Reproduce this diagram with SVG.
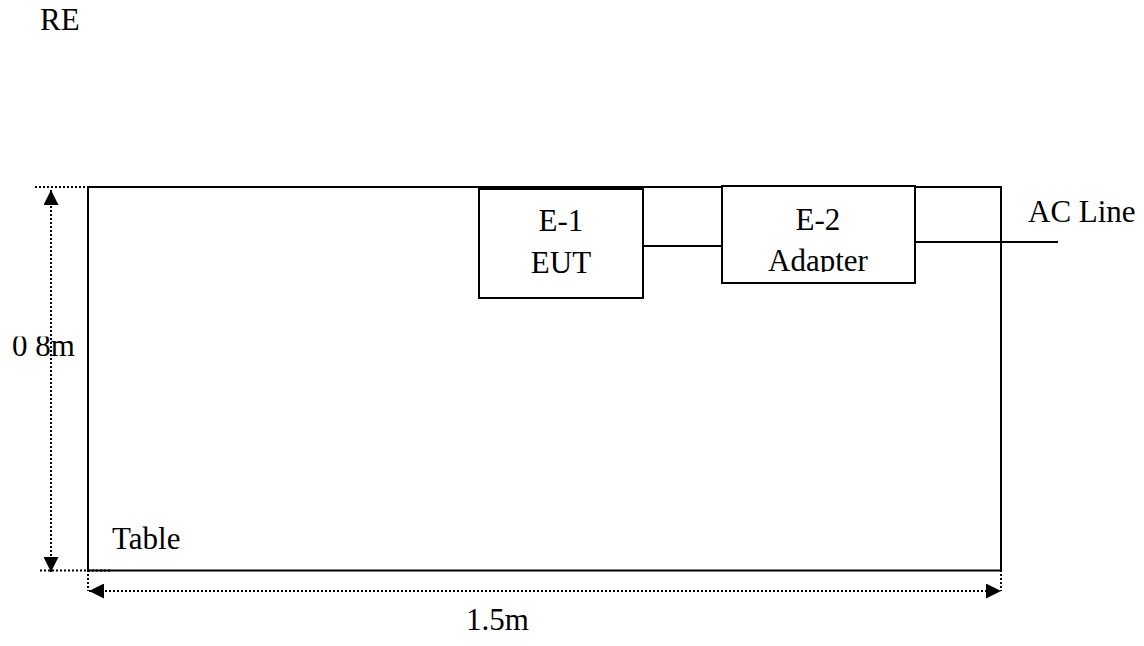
<svg xmlns="http://www.w3.org/2000/svg" width="1144" height="646" viewBox="0 0 1144 646">
<style>
.t{font-family:"Liberation Serif","Times New Roman",serif;font-size:31px;fill:#000}
.s{fill:none;stroke:#000;stroke-width:2}
.d{fill:none;stroke:#000;stroke-width:2;stroke-dasharray:2 2}
.bx{fill:#fff;stroke:#000;stroke-width:2}
</style>
<defs>
<marker id="ah" viewBox="0 0 15 15" refX="15" refY="7.5" markerWidth="15" markerHeight="15" markerUnits="userSpaceOnUse" orient="auto-start-reverse">
<path d="M0,0 L15,7.5 L0,15 Z" fill="#000"/>
</marker>
<clipPath id="clipAd"><rect x="722" y="186" width="193" height="86"/></clipPath>
<clipPath id="clip08"><rect x="0" y="336.5" width="88" height="40"/></clipPath>
</defs>
<text class="t" x="40" y="30">RE</text>
<g id="table">
<rect class="s" x="88" y="187" width="913" height="383.5"/>
<text class="t" x="112" y="549">Table</text>
</g>
<g id="e1">
<rect class="bx" x="479" y="189" width="164" height="109"/>
<text class="t" x="561" y="231" text-anchor="middle">E-1</text>
<text class="t" x="561" y="272.5" text-anchor="middle">EUT</text>
</g>
<g id="e2">
<rect class="bx" x="722" y="186" width="193" height="97"/>
<text class="t" x="818" y="230" text-anchor="middle">E-2</text>
<text class="t" x="818" y="271" text-anchor="middle" clip-path="url(#clipAd)">Adapter</text>
</g>
<g id="acline">
<text class="t" x="1028" y="222">AC Line</text>
</g>
<g id="connectors">
<line class="s" x1="643" y1="246" x2="722" y2="246"/>
<line class="s" x1="915" y1="242" x2="1058" y2="242"/>
</g>
<g id="dimensions">
<line class="d" x1="35" y1="187" x2="88" y2="187"/>
<line class="d" x1="40" y1="570.5" x2="110" y2="570.5"/>
<line class="d" x1="51" y1="190" x2="51" y2="572" marker-start="url(#ah)" marker-end="url(#ah)"/>
<line class="d" x1="88" y1="570" x2="88" y2="591"/>
<line class="d" x1="1001" y1="570" x2="1001" y2="591"/>
<line class="d" x1="89" y1="591" x2="1001" y2="591" marker-start="url(#ah)" marker-end="url(#ah)"/>
<text class="t" x="12" y="356" clip-path="url(#clip08)">0 8m</text>
<text class="t" x="466" y="630">1.5m</text>
</g>
</svg>
